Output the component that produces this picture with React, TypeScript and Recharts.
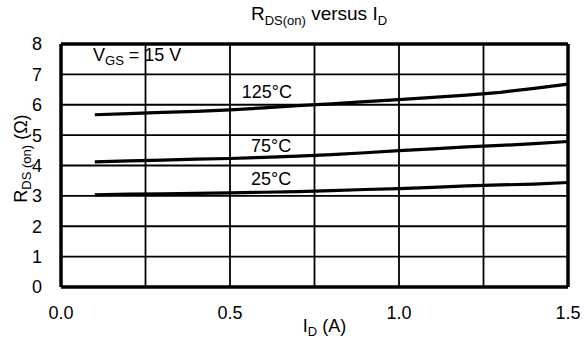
import React from "react";
import {
  LineChart, Line, XAxis, YAxis, CartesianGrid, ReferenceLine, ReferenceDot, Customized,
} from "recharts";

const currents = [0.1, 0.2, 0.3, 0.4, 0.5, 0.6, 0.7, 0.8, 0.9, 1.0, 1.1, 1.2, 1.3, 1.4, 1.5];
const r25 = [3.03, 3.06, 3.07, 3.08, 3.1, 3.12, 3.14, 3.17, 3.21, 3.24, 3.28, 3.33, 3.36, 3.39, 3.44];
const r75 = [4.12, 4.15, 4.18, 4.21, 4.23, 4.27, 4.31, 4.36, 4.42, 4.49, 4.55, 4.61, 4.66, 4.72, 4.79];
const r125 = [5.67, 5.71, 5.75, 5.78, 5.83, 5.9, 5.97, 6.03, 6.1, 6.17, 6.24, 6.32, 6.41, 6.54, 6.68];

const xTicks = [0, 0.25, 0.5, 0.75, 1.0, 1.25, 1.5];
const xLabelled = [0, 0.5, 1.0, 1.5];
const yTicks = [0, 1, 2, 3, 4, 5, 6, 7, 8];

const curveLabels = [
  { text: "125°C", x: 0.535, y: 6.22 },
  { text: "75°C", x: 0.562, y: 4.44 },
  { text: "25°C", x: 0.562, y: 3.36 },
];

const data = currents.map((id, i) => ({ id, r25: r25[i], r75: r75[i], r125: r125[i] }));

const FONT = "'Liberation Sans', Arial, sans-serif";
const FS = 18;
const SUB = 13;

export default function App() {
  return (
    <div style={{ position: "absolute", left: 0, top: 0, width: 585, height: 340, background: "#fff", fontFamily: FONT }}>
      <LineChart width={585} height={340} data={data} margin={{ top: 44, right: 17, bottom: 23, left: 0 }}>
        <CartesianGrid stroke="#000" strokeWidth={1.8} />
        <XAxis
          dataKey="id"
          type="number"
          domain={[0, 1.5]}
          ticks={xTicks}
          height={30}
          tickLine={false}
          tickSize={0}
          tickMargin={19}
          axisLine={{ stroke: "#000", strokeWidth: 3.5 }}
          tick={{ fill: "#000", fontSize: FS, fontFamily: FONT }}
          tickFormatter={(v: number) => (xLabelled.includes(v) ? v.toFixed(1) : "")}
          label={(p: any) => {
            const vb = p.viewBox;
            return (
              <text x={vb.x + vb.width / 2 + 10} y={332} textAnchor="middle" fontSize={FS} fontFamily={FONT} fill="#000">
                <tspan>I</tspan>
                <tspan fontSize={SUB} dy={4}>D</tspan>
                <tspan dy={-4}> (A)</tspan>
              </text>
            );
          }}
        />
        <YAxis
          type="number"
          domain={[0, 8]}
          ticks={yTicks}
          width={61}
          tickLine={false}
          tickSize={0}
          tickMargin={19}
          axisLine={{ stroke: "#000", strokeWidth: 3.5 }}
          tick={{ fill: "#000", fontSize: FS, fontFamily: FONT }}
          label={(p: any) => {
            const vb = p.viewBox;
            const cx = 27;
            const cy = vb.y + vb.height / 2 - 7;
            return (
              <text x={cx} y={cy} transform={`rotate(-90 ${cx} ${cy})`} textAnchor="middle" fontSize={FS} fontFamily={FONT} fill="#000">
                <tspan>R</tspan>
                <tspan fontSize={SUB} dy={4}>DS (on)</tspan>
                <tspan dy={-4}> (Ω)</tspan>
              </text>
            );
          }}
        />
        <ReferenceLine x={1.5} stroke="#000" strokeWidth={3.5} />
        <ReferenceLine y={8} stroke="#000" strokeWidth={3.5} />
        <Line type="linear" dataKey="r125" stroke="#000" strokeWidth={3.2} dot={false} isAnimationActive={false} />
        <Line type="linear" dataKey="r75" stroke="#000" strokeWidth={3.2} dot={false} isAnimationActive={false} />
        <Line type="linear" dataKey="r25" stroke="#000" strokeWidth={3.2} dot={false} isAnimationActive={false} />
        {curveLabels.map((c) => (
          <ReferenceDot
            key={c.text}
            x={c.x}
            y={c.y}
            r={1}
            fill="none"
            stroke="none"
            label={(p: any) => (
              <text x={p.viewBox.x + 1} y={p.viewBox.y + 1} fontSize={FS} fontFamily={FONT} fill="#000">
                {c.text}
              </text>
            )}
          />
        ))}
        <ReferenceDot
          x={0.0947}
          y={7.44}
          r={1}
          fill="none"
          stroke="none"
          label={(p: any) => (
            <text x={p.viewBox.x + 1} y={p.viewBox.y + 1} fontSize={FS} fontFamily={FONT} fill="#000">
              <tspan>V</tspan>
              <tspan fontSize={SUB} dy={4}>GS</tspan>
              <tspan dy={-4}> = 15 V</tspan>
            </text>
          )}
        />
        <Customized
          component={() => (
            <text x={319} y={20} textAnchor="middle" fontSize={19} fontFamily={FONT} fill="#000">
              <tspan>R</tspan>
              <tspan fontSize={SUB} dy={5}>DS(on)</tspan>
              <tspan dy={-5}> versus I</tspan>
              <tspan fontSize={SUB} dy={5}>D</tspan>
            </text>
          )}
        />
      </LineChart>
    </div>
  );
}
